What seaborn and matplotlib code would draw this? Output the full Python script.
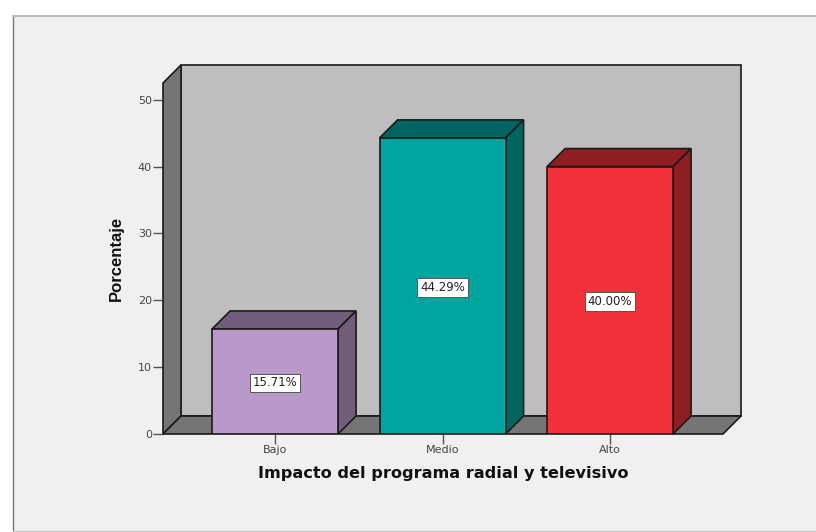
import matplotlib
matplotlib.use('Agg')
import matplotlib.pyplot as plt
import pandas as pd
import seaborn as sns
from matplotlib.patches import Rectangle

categorias = ['Bajo', 'Medio', 'Alto']
porcentajes = [15.71, 44.29, 40.00]
etiquetas = ['15.71%', '44.29%', '40.00%']
colores = ['#b899c9', '#00a5a0', '#f2323a']
colores_lado = ['#715c7a', '#006460', '#8f1e22']
ticks_y = [0, 10, 20, 30, 40, 50]

W, H = 816, 532
sns.set_theme(style='white')
plt.rcParams['font.family'] = ['Liberation Sans', 'DejaVu Sans']

fig = plt.figure(figsize=(W / 100, H / 100), dpi=100, facecolor='white')

# panel gris de fondo, por debajo de los ejes
fig.add_artist(Rectangle((13 / W, 1 - 531 / H), 803 / W, 515 / H, transform=fig.transFigure,
                         facecolor='#f0f0f0', edgecolor='none', zorder=-3))
fig.add_artist(plt.Line2D([13 / W, 13 / W], [1 - 531 / H, 1 - 16 / H], color='#777777', lw=1, zorder=-2))
fig.add_artist(plt.Line2D([13 / W, 1], [1 - 16 / H, 1 - 16 / H], color='#bbbbbb', lw=1.5, zorder=-2))
fig.add_artist(plt.Line2D([13 / W, 1], [1 - 531 / H, 1 - 531 / H], color='#cccccc', lw=1, zorder=-2))

ax = fig.add_axes([163 / W, 1 - 434 / H, 560 / W, 351 / H])
ax.patch.set_alpha(0)

df = pd.DataFrame({'impacto': categorias, 'porcentaje': porcentajes})
sns.barplot(data=df, x='impacto', y='porcentaje', hue='impacto', palette=colores, legend=False,
            width=0.752, edgecolor='#1a1a1a', linewidth=1.2, saturation=1, ax=ax, zorder=5)

x0, x1 = -0.669, 2.674
y0, y1 = 0, 52.5
ax.set_xlim(x0, x1)
ax.set_ylim(y0, y1)

# profundidad del efecto 3D, 18 px en cada eje
dx = 18 / 167.5
dy = 18 / 6.686
borde = dict(edgecolor='#1a1a1a', linewidth=1.2, clip_on=False)

ax.fill([x0 + dx, x1 + dx, x1 + dx, x0 + dx], [y0 + dy, y0 + dy, y1 + dy, y1 + dy],
        facecolor='#bebebe', zorder=1, **borde)
ax.fill([x0, x0 + dx, x0 + dx, x0], [y0, y0 + dy, y1 + dy, y1],
        facecolor='#757575', zorder=2, **borde)
ax.fill([x0, x1, x1 + dx, x0 + dx], [y0, y0, y0 + dy, y0 + dy],
        facecolor='#757575', zorder=2, **borde)

for i, (valor, etiqueta, lado) in enumerate(zip(porcentajes, etiquetas, colores_lado)):
    izq, der = i - 0.376, i + 0.376
    ax.fill([izq, der, der + dx, izq + dx], [valor, valor, valor + dy, valor + dy],
            facecolor=lado, zorder=4, **borde)
    ax.fill([der, der + dx, der + dx, der], [0, dy, valor + dy, valor],
            facecolor=lado, zorder=4, **borde)
    ax.text(i, valor / 2, etiqueta, ha='center', va='center_baseline', fontsize=8.5, family='DejaVu Sans',
            color='#222222', zorder=6,
            bbox=dict(facecolor='white', edgecolor='#555555', linewidth=0.7, boxstyle='square,pad=0.25'))

sns.despine(ax=ax, left=True, bottom=True, top=True, right=True)
ax.set_yticks(ticks_y)
ax.tick_params(axis='y', left=True, length=7, width=1, color='#555555', labelsize=8,
               labelcolor='#444444', pad=1)
ax.tick_params(axis='x', bottom=True, length=7, width=1, color='#555555', labelsize=8,
               labelcolor='#444444', pad=1)
for t in ax.get_xticklabels() + ax.get_yticklabels():
    t.set_family('DejaVu Sans')
ax.set_xlabel('Impacto del programa radial y televisivo', fontsize=11.6, fontweight='bold',
              family='DejaVu Sans', color='#111111', labelpad=8)
ax.set_ylabel('Porcentaje', fontsize=12, fontweight='bold', color='#111111', labelpad=10)

fig.savefig('out.png', dpi=100)
